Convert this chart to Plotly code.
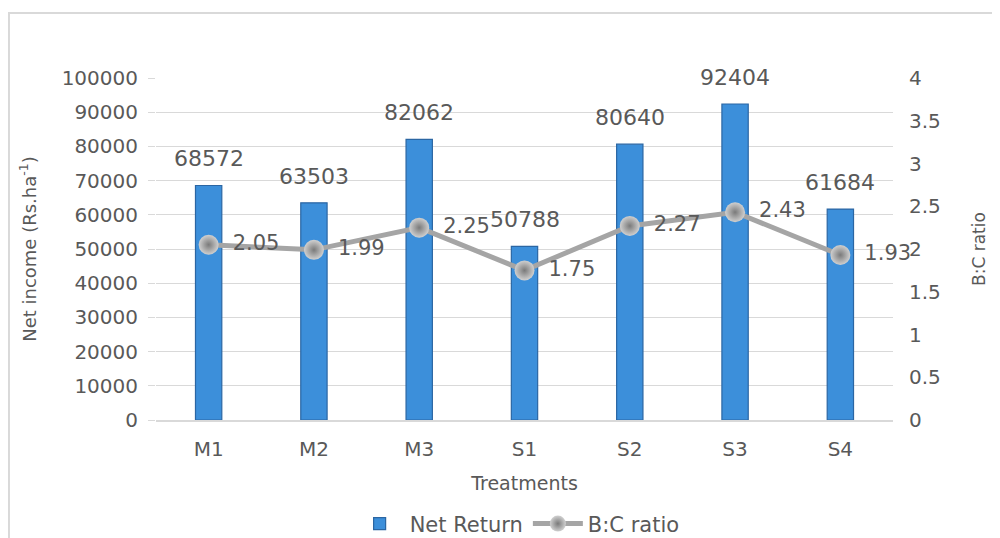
import plotly.graph_objects as go
from plotly.subplots import make_subplots

treatments = ["M1", "M2", "M3", "S1", "S2", "S3", "S4"]
net_return = [68572, 63503, 82062, 50788, 80640, 92404, 61684]
bc_ratio = [2.05, 1.99, 2.25, 1.75, 2.27, 2.43, 1.93]
bc_labels = ["2.05", "1.99", "2.25", "1.75", "2.27", "2.43", "1.93"]

FONT = "DejaVu Sans"
GRAY = "#595959"

fig = make_subplots(specs=[[{"secondary_y": True}]])

fig.add_trace(go.Bar(
    x=treatments, y=net_return, name="Net Return",
    width=0.25,
    marker=dict(color="#3C8FDA", line=dict(color="#2B66A3", width=1.2)),
), secondary_y=False)

fig.add_trace(go.Scatter(
    x=treatments, y=bc_ratio, name="B:C ratio",
    mode="lines+markers+text",
    text=bc_labels, texttemplate="\u2002%{text}", textposition="middle right",
    textfont=dict(family=FONT, size=21, color=GRAY),
    line=dict(color="#A5A5A5", width=5),
    marker=dict(size=20, color="#D0D0D0",
                gradient=dict(type="radial", color="#7A7A7A"),
                line=dict(width=0)),
    cliponaxis=False,
), secondary_y=True)

for t, v in zip(treatments, net_return):
    fig.add_annotation(x=t, y=v, yref="y", text=str(v), showarrow=False,
                       yanchor="bottom", yshift=12,
                       font=dict(family=FONT, size=22, color=GRAY))

fig.update_layout(
    width=992, height=530,
    margin=dict(l=148, r=107, t=70, b=118, autoexpand=False),
    paper_bgcolor="white", plot_bgcolor="white",
    font=dict(family=FONT, color=GRAY),
    showlegend=True,
    legend=dict(orientation="h", x=0.49, xanchor="center", y=-0.304, yanchor="middle",
                itemwidth=50,
                font=dict(family=FONT, size=21, color=GRAY)),
)

fig.update_xaxes(
    domain=[0, 1],
    title=dict(text="Treatments", font=dict(family=FONT, size=19, color=GRAY), standoff=17),
    tickfont=dict(family=FONT, size=20, color=GRAY),
    showgrid=False, showline=True, linecolor="#D9D9D9", linewidth=2,
    ticks="", ticklabelstandoff=10, automargin=False,
)

fig.update_yaxes(
    title=dict(text="Net income (Rs.ha<sup>-1</sup>)", font=dict(family=FONT, size=18, color=GRAY), standoff=20),
    range=[0, 100000], dtick=10000, tickformat="d",
    tickfont=dict(family=FONT, size=20, color=GRAY),
    showgrid=True, gridcolor="#D9D9D9", gridwidth=1,
    ticks="outside", ticklen=7, tickcolor="#D9D9D9", ticklabelstandoff=6,
    zeroline=False, showline=False, automargin=False,
    secondary_y=False,
)

fig.update_yaxes(
    title=dict(text="B:C ratio", font=dict(family=FONT, size=17, color=GRAY), standoff=33),
    range=[0, 4], dtick=0.5,
    tickfont=dict(family=FONT, size=20, color=GRAY),
    showgrid=False, ticks="", ticklabelstandoff=15,
    zeroline=False, showline=False, automargin=False,
    secondary_y=True,
)

fig.add_shape(type="rect", xref="paper", yref="paper",
              x0=-0.1995, x1=1.2, y0=-0.5, y1=1.19,
              line=dict(color="#D9D9D9", width=2), fillcolor="rgba(0,0,0,0)", layer="below")

fig.write_html("out.html")
